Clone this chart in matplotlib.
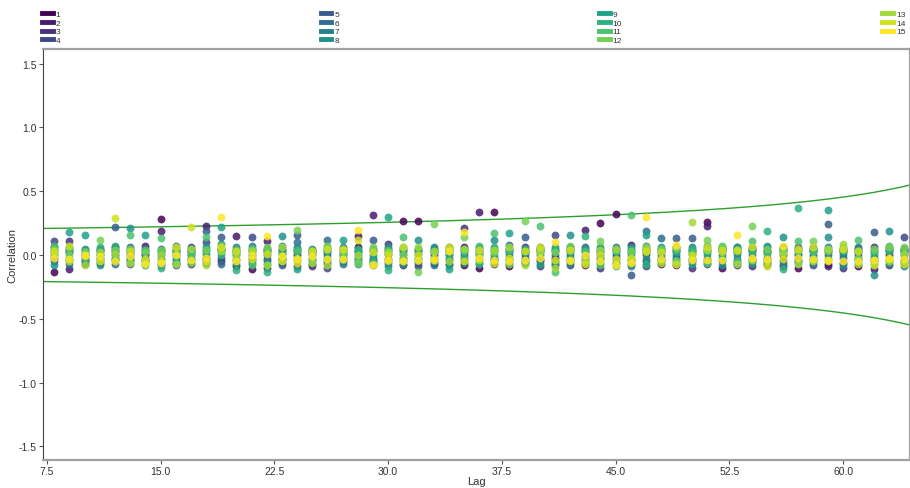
import numpy as np
import matplotlib
matplotlib.use('Agg')
import matplotlib.pyplot as plt
from matplotlib.lines import Line2D

# lags 8..64, one correlation value per series at each lag
lags = list(range(8, 65))

s1 = [-0.13, 0.02, -0.05, 0.03, 0.06, -0.04, 0.01, 0.28, -0.06, 0.03,
      -0.02, 0.04, -0.09, -0.11, 0.05, -0.03, 0.00, -0.07, 0.02, -0.05,
      0.06, -0.04, 0.01, 0.27, 0.27, -0.06, 0.03, -0.08, -0.10, 0.34,
      -0.09, 0.02, -0.05, -0.02, 0.04, -0.08, 0.25, 0.32, -0.04, 0.01,
      -0.07, 0.03, -0.05, 0.26, -0.10, 0.02, -0.03, -0.06, 0.00, -0.10,
      -0.04, -0.07, 0.02, -0.09, -0.05, 0.00, 0.05]
s2 = [0.06, -0.11, 0.01, -0.06, 0.00, 0.04, 0.07, 0.19, 0.02, -0.07,
      0.23, -0.05, 0.15, 0.00, 0.11, 0.04, -0.09, 0.02, -0.06, 0.05,
      0.15, 0.31, -0.03, -0.08, 0.04, 0.00, -0.07, 0.06, 0.34, -0.02,
      0.03, -0.06, 0.05, -0.08, -0.04, 0.20, -0.02, 0.00, 0.08, -0.05,
      0.02, -0.08, 0.04, 0.23, 0.03, -0.08, 0.05, -0.02, -0.09, 0.04,
      0.03, -0.09, -0.06, 0.05, -0.11, 0.04, 0.03]
s3 = [-0.02, 0.11, -0.07, 0.05, -0.04, 0.02, -0.05, -0.08, 0.04, 0.00,
      -0.06, 0.05, 0.02, -0.04, -0.10, 0.01, 0.03, -0.09, 0.05, -0.02,
      -0.05, 0.03, 0.09, -0.02, -0.06, 0.05, 0.01, 0.21, 0.02, -0.07,
      -0.03, 0.06, -0.09, 0.03, 0.06, -0.03, -0.10, 0.04, -0.07, 0.05,
      -0.04, 0.06, -0.10, -0.03, 0.05, 0.06, -0.09, 0.03, 0.05, -0.05,
      0.00, 0.04, -0.10, 0.02, 0.06, -0.08, -0.06]
s4 = [0.11, -0.04, 0.04, -0.02, 0.03, -0.07, 0.03, 0.00, -0.08, 0.06,
      0.10, -0.02, -0.04, 0.14, -0.03, -0.06, 0.05, 0.04, -0.10, 0.01,
      -0.02, -0.08, 0.05, 0.03, -0.09, 0.02, -0.04, 0.00, 0.05, 0.03,
      0.05, -0.02, 0.02, 0.16, -0.08, 0.04, 0.03, -0.06, 0.02, -0.09,
      0.05, -0.02, 0.01, -0.07, -0.05, 0.03, 0.00, 0.06, -0.05, 0.01,
      -0.08, 0.02, 0.05, -0.03, 0.02, 0.06, 0.14]
s5 = [-0.05, 0.05, -0.02, 0.00, 0.22, 0.00, -0.02, 0.05, 0.07, -0.03,
      0.19, 0.14, 0.00, 0.05, 0.02, -0.08, 0.16, -0.03, 0.00, 0.03,
      0.02, 0.12, -0.06, 0.05, 0.01, -0.03, 0.06, -0.04, 0.00, -0.05,
      -0.06, 0.14, -0.03, 0.00, 0.02, 0.06, 0.00, 0.05, -0.16, 0.03,
      -0.02, 0.13, 0.13, 0.05, 0.00, -0.03, 0.04, -0.08, 0.03, 0.06,
      0.05, 0.24, -0.02, 0.00, 0.18, -0.04, 0.00]
s6 = [0.03, -0.07, 0.00, 0.04, -0.07, 0.06, 0.00, -0.03, 0.00, 0.04,
      0.03, -0.07, 0.06, -0.06, 0.00, 0.05, 0.10, 0.01, 0.12, -0.07,
      0.00, -0.02, 0.03, -0.05, 0.05, -0.08, -0.02, 0.04, -0.06, 0.05,
      0.08, 0.00, 0.06, -0.05, 0.00, -0.01, 0.05, -0.02, 0.04, 0.19,
      0.13, 0.00, -0.03, 0.02, 0.06, 0.05, -0.05, 0.02, 0.06, -0.03,
      0.06, 0.00, 0.04, 0.06, -0.02, 0.02, -0.04]
s7 = [0.00, 0.03, -0.04, -0.05, 0.05, -0.02, 0.05, 0.03, -0.04, -0.05,
      -0.04, 0.02, 0.04, 0.07, -0.05, 0.07, -0.04, 0.05, -0.04, 0.06,
      0.04, 0.05, -0.09, 0.01, -0.03, 0.06, 0.04, -0.06, 0.03, -0.03,
      0.00, 0.04, 0.00, 0.05, -0.06, 0.02, -0.06, 0.06, -0.09, 0.07,
      0.00, 0.05, 0.06, -0.05, 0.04, -0.06, 0.06, 0.04, -0.07, 0.05,
      -0.06, 0.06, 0.00, -0.06, 0.04, 0.05, -0.09]
s8 = [-0.08, 0.06, 0.05, -0.08, -0.02, 0.21, -0.08, -0.06, 0.05, 0.02,
      0.06, 0.09, -0.07, 0.02, 0.04, 0.15, 0.06, -0.05, 0.06, 0.00,
      -0.07, -0.06, 0.06, -0.07, 0.12, 0.03, -0.08, 0.02, 0.06, 0.12,
      0.02, -0.05, 0.04, -0.06, 0.16, -0.06, 0.02, -0.04, 0.06, -0.02,
      0.06, -0.06, 0.03, 0.07, -0.08, 0.00, 0.03, -0.04, 0.14, 0.00,
      0.03, 0.14, -0.08, 0.03, -0.16, 0.19, 0.02]
s9 = [0.04, 0.18, 0.16, 0.01, 0.02, 0.04, 0.16, 0.02, -0.02, 0.05,
      0.01, 0.22, 0.03, -0.02, -0.07, 0.02, -0.11, 0.03, 0.03, 0.12,
      0.03, 0.00, 0.30, 0.06, -0.02, 0.04, -0.11, 0.05, -0.03, 0.00,
      0.17, 0.02, -0.07, 0.06, -0.02, 0.05, 0.06, 0.02, 0.00, 0.16,
      0.03, 0.02, -0.07, 0.00, 0.05, 0.06, -0.06, 0.07, 0.05, -0.06,
      0.04, 0.35, 0.04, -0.04, 0.00, -0.06, 0.05]
s10 = [0.02, -0.02, -0.03, 0.06, 0.07, -0.05, -0.04, -0.10, -0.06, -0.02,
       0.05, 0.00, -0.12, 0.04, -0.13, -0.04, 0.02, 0.00, -0.02, 0.02,
       0.05, -0.05, -0.12, 0.04, 0.03, -0.05, 0.00, -0.02, -0.07, 0.06,
       -0.04, 0.05, 0.03, 0.04, 0.05, 0.15, -0.04, -0.09, 0.05, -0.07,
       0.04, -0.04, 0.05, 0.03, -0.02, 0.05, 0.02, 0.19, -0.11, 0.37,
       -0.02, -0.03, 0.03, 0.04, -0.07, 0.03, 0.03]
s11 = [0.07, 0.04, 0.03, -0.03, -0.03, 0.16, 0.04, 0.13, 0.03, 0.01,
       0.14, 0.04, 0.05, -0.08, 0.03, -0.02, 0.04, 0.04, 0.04, -0.04,
       -0.03, 0.04, 0.04, 0.14, -0.05, 0.02, 0.05, 0.03, 0.07, 0.17,
       0.04, -0.04, 0.23, -0.13, 0.03, 0.03, -0.08, 0.03, 0.31, 0.04,
       -0.05, 0.04, 0.02, -0.06, 0.07, -0.05, 0.11, 0.01, 0.02, 0.11,
       0.02, 0.05, 0.06, 0.12, 0.03, 0.07, -0.05]
s12 = [0.05, 0.00, 0.02, 0.12, 0.04, 0.05, 0.02, 0.04, 0.01, -0.06,
       0.04, 0.07, 0.01, 0.05, 0.06, 0.00, 0.20, -0.02, 0.07, -0.01,
       -0.06, 0.06, -0.05, 0.00, -0.13, 0.24, 0.03, 0.14, 0.01, 0.02,
       -0.07, 0.27, 0.05, 0.02, 0.07, -0.05, 0.11, -0.06, 0.03, 0.02,
       0.05, -0.05, -0.02, 0.12, 0.06, 0.03, 0.23, 0.05, 0.04, 0.03,
       0.11, 0.03, 0.05, -0.02, 0.05, 0.06, 0.06]
s13 = [0.01, -0.05, -0.08, 0.02, 0.01, -0.06, -0.06, 0.00, -0.07, 0.05,
       -0.08, 0.03, -0.02, 0.03, -0.08, 0.06, -0.02, -0.06, -0.08, 0.04,
       0.00, -0.07, 0.02, -0.04, 0.06, 0.03, -0.05, 0.05, -0.04, 0.04,
       0.06, -0.08, 0.02, -0.10, -0.05, -0.04, 0.04, 0.05, -0.05, 0.06,
       -0.06, 0.06, 0.26, 0.04, 0.02, -0.07, -0.04, -0.05, 0.01, -0.07,
       -0.05, 0.05, 0.09, -0.07, -0.04, -0.05, 0.01]
s14 = [0.03, 0.07, -0.01, -0.05, 0.29, 0.03, -0.03, -0.05, 0.06, 0.22,
       -0.05, 0.06, 0.03, -0.03, 0.01, -0.05, -0.06, 0.03, 0.05, 0.05,
       0.12, 0.02, 0.00, 0.06, 0.00, -0.02, 0.06, -0.05, 0.04, -0.06,
       -0.02, 0.03, 0.06, -0.04, 0.04, -0.07, 0.00, -0.03, -0.02, 0.03,
       0.02, -0.07, 0.00, 0.06, 0.04, 0.04, 0.06, -0.09, -0.03, 0.05,
       0.06, -0.05, 0.05, 0.03, -0.08, -0.03, -0.07]
s15 = [-0.02, -0.03, 0.00, -0.01, -0.05, -0.01, -0.07, -0.06, 0.00, -0.04,
       -0.02, 0.30, -0.05, 0.00, 0.15, -0.01, -0.03, -0.01, -0.03, -0.03,
       0.20, -0.08, -0.04, -0.05, -0.04, -0.04, 0.03, 0.18, -0.02, -0.04,
       -0.05, -0.04, -0.02, 0.10, -0.04, 0.00, -0.05, -0.08, -0.06, 0.30,
       -0.03, 0.08, -0.04, -0.04, -0.04, 0.16, -0.02, -0.03, 0.07, -0.02,
       -0.03, -0.04, -0.05, -0.05, -0.04, -0.02, -0.03]

series = [s1, s2, s3, s4, s5, s6, s7, s8, s9, s10, s11, s12, s13, s14, s15]
series_names = [str(i) for i in range(1, 16)]

# confidence limits: z / sqrt(n - lag)
n_obs = 74
z_crit = 1.7

x_ticks = [7.5, 15.0, 22.5, 30.0, 37.5, 45.0, 52.5, 60.0]
y_ticks = [-1.5, -1.0, -0.5, 0.0, 0.5, 1.0, 1.5]

plt.rcParams['font.family'] = ['Liberation Sans', 'DejaVu Sans']

fig = plt.figure(figsize=(9.1, 4.89), dpi=100)
ax = fig.add_axes([0.047, 0.057, 0.953, 0.841])

colors = plt.cm.viridis(np.linspace(0, 1, len(series)))

for vals, c in zip(series, colors):
    ax.scatter(lags, vals, s=32, color=c, alpha=0.85, linewidths=0, zorder=3)

band_x = np.linspace(7.24, 64.4, 400)
band = z_crit / np.sqrt(n_obs - band_x)
ax.plot(band_x, band, color='#2ca02c', lw=1.0, zorder=2)
ax.plot(band_x, -band, color='#2ca02c', lw=1.0, zorder=2)

ax.set_xlim(7.24, 64.4)
ax.set_ylim(-1.608, 1.616)
ax.set_xticks(x_ticks)
ax.set_xticklabels([f'{t:.1f}' for t in x_ticks])
ax.set_yticks(y_ticks)
ax.set_yticklabels([f'{t:.1f}' for t in y_ticks])
ax.tick_params(axis='both', labelsize=7.5, length=3, width=0.8,
               color='#555555', labelcolor='#333333', pad=1.5)

for side in ['top', 'bottom', 'right']:
    ax.spines[side].set_color('#a0a0a0')
    ax.spines[side].set_linewidth(1.6)
ax.spines['left'].set_color('#444444')
ax.spines['left'].set_linewidth(0.8)

ax.set_xlabel('Lag', fontsize=8, color='#333333', labelpad=0)
ax.set_ylabel('Correlation', fontsize=8, color='#333333', labelpad=1)

handles = [Line2D([0], [0], color=c, lw=3.5) for c in colors]
fig.legend(handles, series_names, loc='upper left', ncol=4,
           bbox_to_anchor=(42 / 910, 1 - 11 / 489), frameon=False,
           fontsize=6, handlelength=1.3, handletextpad=0.35,
           columnspacing=31.2, labelspacing=0.12, borderpad=0,
           borderaxespad=0, labelcolor='#333333')

fig.savefig('out.png', dpi=100)
